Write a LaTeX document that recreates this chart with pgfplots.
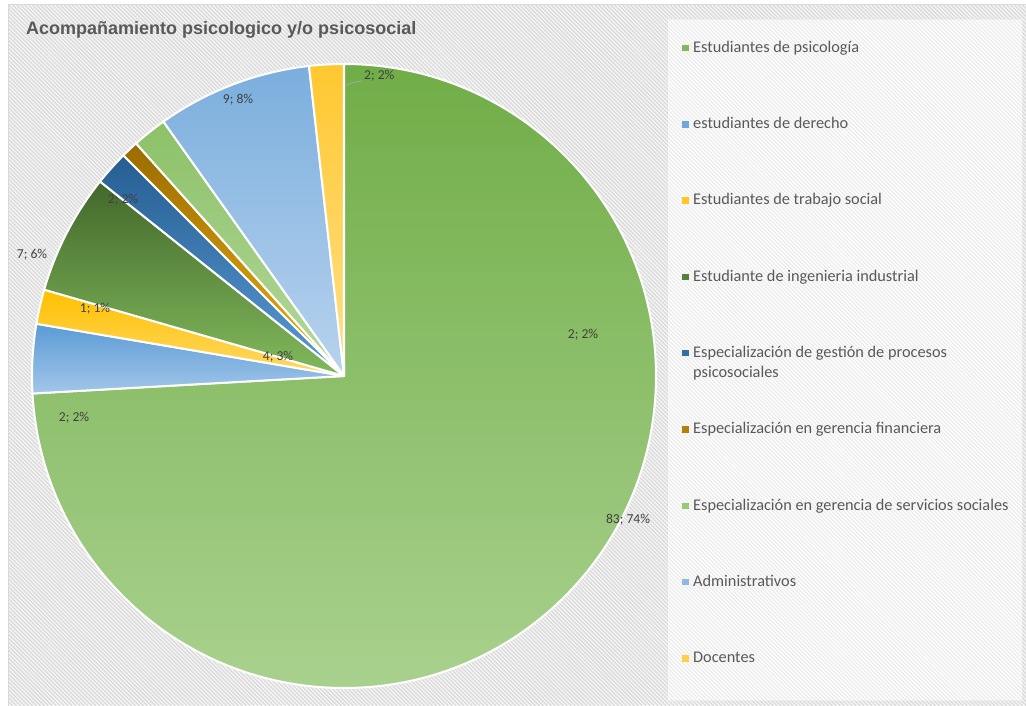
\documentclass[border=0pt]{standalone}
\usepackage{pgfplots}
\pgfplotsset{compat=1.18}
\usepackage{pgfplotstable}
\usepackage{fontspec}
\setmainfont{Carlito}
\newfontfamily\titlefont{Liberation Sans}
\usetikzlibrary{patterns.meta}

\definecolor{psicoT}{HTML}{70AD47}\definecolor{psicoB}{HTML}{A9D18E}
\definecolor{derT}{HTML}{5B9BD5}\definecolor{derB}{HTML}{A2C6E9}
\definecolor{trabT}{HTML}{FFC000}\definecolor{trabB}{HTML}{FFD966}
\definecolor{ingT}{HTML}{43682B}\definecolor{ingB}{HTML}{82BA5C}
\definecolor{gestT}{HTML}{255E91}\definecolor{gestB}{HTML}{5B9BD5}
\definecolor{finT}{HTML}{9A6C00}\definecolor{finB}{HTML}{F0B010}
\definecolor{servT}{HTML}{8CC168}\definecolor{servB}{HTML}{B5D99C}
\definecolor{admT}{HTML}{7BAEDD}\definecolor{admB}{HTML}{B8D3EE}
\definecolor{docT}{HTML}{FFC830}\definecolor{docB}{HTML}{FFE08A}
\definecolor{labtext}{HTML}{404040}
\definecolor{legtext}{HTML}{595959}
\definecolor{titletext}{HTML}{595959}
\definecolor{bgcol}{HTML}{F5F5F5}
\definecolor{hatch}{HTML}{D9D9D9}
\definecolor{hatchlight}{HTML}{EBEBEB}
\definecolor{framecol}{HTML}{D9D9D9}

\pgfplotstableread{
id v ct cb
psico 83 psicoT psicoB
derecho 4 derT derB
trabajo 2 trabT trabB
ing 7 ingT ingB
gest 2 gestT gestB
fin 1 finT finB
serv 2 servT servB
adm 9 admT admB
doc 2 docT docB
}\piedata

\pgfplotsset{
 sqlegend/.style={legend image code/.code={\fill[##1, draw=none] (0pt,-3pt) rectangle (6.5pt,3.5pt);}},
}

\begin{document}
\begin{tikzpicture}
\path[use as bounding box] (0,0) rectangle (1026pt,705pt);
\begin{axis}[
  at={(0,0)}, anchor=south west,
  scale only axis, width=1026pt, height=705pt,
  xmin=0, xmax=1026, ymin=0, ymax=705,
  hide axis, clip=false,
  legend cell align=left,
  legend style={at={(axis cs:682,665)}, anchor=north west, draw=none, fill=none,
    inner sep=0pt, row sep=60.3pt, column sep=4.5pt,
    font=\fontsize{16.3}{20}\selectfont, text=legtext,
    nodes={inner sep=0pt, text height=12pt, text depth=4pt}},
]
\pgfplotsextra{%
  % background
  \fill[bgcol] (axis cs:8,0) rectangle (axis cs:1026,700);
  \fill[pattern={Lines[angle=-45,distance=2.8pt,line width=1.2pt]}, pattern color=hatch]
     (axis cs:8,0) rectangle (axis cs:1026,700);
  \fill[white] (axis cs:668,5) rectangle (axis cs:1022,685);
  \fill[pattern={Lines[angle=-45,distance=2.8pt,line width=1.2pt]}, pattern color=hatchlight]
     (axis cs:668,5) rectangle (axis cs:1022,685);
  \draw[framecol, line width=1pt] (axis cs:8,0) -- (axis cs:8,700) -- (axis cs:1026,700);
  % pie
  \pgfplotstablegetrowsof{\piedata}\pgfmathtruncatemacro\nrows{\pgfplotsretval-1}%
  \gdef\pietotal{0}%
  \foreach \i in {0,...,\nrows}{%
    \pgfplotstablegetelem{\i}{v}\of\piedata
    \pgfmathsetmacro\tmp{\pietotal+\pgfplotsretval}\xdef\pietotal{\tmp}}%
  \gdef\startang{90}%
  \foreach \i in {0,...,\nrows}{%
    \pgfplotstablegetelem{\i}{v}\of\piedata
    \pgfmathsetmacro\endang{\startang-\pgfplotsretval/\pietotal*360}%
    \pgfplotstablegetelem{\i}{ct}\of\piedata\edef\ctop{\pgfplotsretval}%
    \pgfplotstablegetelem{\i}{cb}\of\piedata\edef\cbot{\pgfplotsretval}%
    \path[draw=white, line width=2pt, line join=round, top color=\ctop, bottom color=\cbot]
      (axis cs:344,329) -- ++(\startang:312pt)
      arc[start angle=\startang, end angle=\endang, radius=312pt] -- cycle;
    \xdef\startang{\endang}%
  }%
  % title
  \node[anchor=west, text=titletext, inner sep=0pt, font=\titlefont\bfseries\fontsize{18}{22}\selectfont]
     at (axis cs:26,675) {Acompañamiento psicologico y/o psicosocial};
  % data labels
  \begingroup
  \tikzset{lab/.style={text=labtext, inner sep=0pt, font=\fontsize{13.6}{16}\selectfont}}
  \draw[gray!70, line width=0.8pt] (axis cs:345,619) -- (axis cs:351,622) -- (axis cs:362,624);
  \node[lab, anchor=west] at (axis cs:364,629) {2; 2\%};
  \node[lab] at (axis cs:238,605) {9; 8\%};
  \node[lab] at (axis cs:123,505) {2; 2\%};
  \node[lab] at (axis cs:32,450) {7; 6\%};
  \node[lab] at (axis cs:95,396) {1; 1\%};
  \node[lab] at (axis cs:278,348) {4; 3\%};
  \node[lab] at (axis cs:74,287) {2; 2\%};
  \node[lab] at (axis cs:583,370) {2; 2\%};
  \node[lab] at (axis cs:628,185) {83; 74\%};
  \endgroup
}
\addlegendimage{sqlegend, fill=psicoT!70!psicoB}
\addlegendentry{Estudiantes de psicología}
\addlegendimage{sqlegend, fill=derT!70!derB}
\addlegendentry{estudiantes de derecho}
\addlegendimage{sqlegend, fill=trabT!70!trabB}
\addlegendentry{Estudiantes de trabajo social}
\addlegendimage{sqlegend, fill=ingT!70!ingB}
\addlegendentry{Estudiante de ingenieria industrial}
\addlegendimage{sqlegend, fill=gestT!70!gestB}
\addlegendentry{\smash{\begin{tabular}[t]{@{}l@{}}Especialización de gestión de procesos\\psicosociales\end{tabular}}}
\addlegendimage{sqlegend, fill=finT!70!finB}
\addlegendentry{Especialización en gerencia financiera}
\addlegendimage{sqlegend, fill=servT!70!servB}
\addlegendentry{Especialización en gerencia de servicios sociales}
\addlegendimage{sqlegend, fill=admT!70!admB}
\addlegendentry{Administrativos}
\addlegendimage{sqlegend, fill=docT!70!docB}
\addlegendentry{Docentes}
\end{axis}
\end{tikzpicture}
\end{document}
